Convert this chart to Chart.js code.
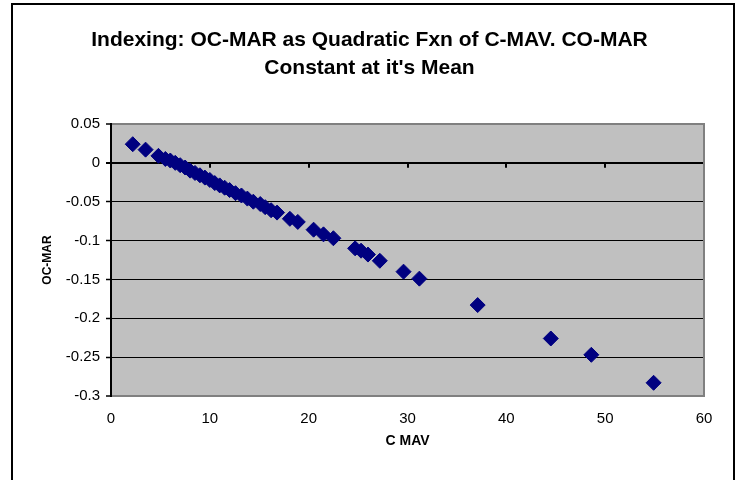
<!DOCTYPE html>
<html>
<head>
<meta charset="utf-8">
<script src="https://cdn.jsdelivr.net/npm/chart.js@4"></script>
<style>
  html, body { margin: 0; padding: 0; background: #fff; }
  #wrap { width: 739px; height: 480px; }
</style>
</head>
<body>
<div id="wrap"><canvas id="grafico" width="739" height="480"></canvas></div>
<script>
// valores
const cMav = [2.2, 3.5, 4.8, 5.5, 6.0, 6.5, 7.0, 7.5, 8.0, 8.5, 9.0, 9.5, 10.0, 10.5, 11.0, 11.5, 12.0, 12.6, 13.2, 13.8,
  14.4, 15.1, 15.6, 16.2, 16.8, 18.1, 18.9, 20.5, 21.5, 22.5, 24.7, 25.3, 26.0, 27.2, 29.6, 31.2, 37.1, 44.5, 48.6, 54.9];
const ocMar = [0.024, 0.017, 0.009, 0.005, 0.003, 0.000, -0.003, -0.006, -0.010, -0.013, -0.016, -0.019, -0.022, -0.026,
  -0.029, -0.032, -0.035, -0.039, -0.042, -0.046, -0.050, -0.053, -0.057, -0.061, -0.064, -0.072, -0.076, -0.086, -0.092,
  -0.097, -0.110, -0.113, -0.118, -0.126, -0.140, -0.149, -0.183, -0.226, -0.247, -0.283];
const xTicks = [0, 10, 20, 30, 40, 50, 60];
const yTicks = [0.05, 0, -0.05, -0.1, -0.15, -0.2, -0.25, -0.3];

const pontos = cMav.map((x, i) => ({x: x, y: ocMar[i]}));

const fundo = {
  id: 'fundo',
  beforeDraw(chart) {
    const ctx = chart.ctx;
    const a = chart.chartArea;
    ctx.save();
    ctx.fillStyle = '#fff';
    ctx.fillRect(0, 0, chart.width, chart.height);
    ctx.fillStyle = '#c0c0c0';
    ctx.fillRect(a.left, a.top, a.right - a.left, a.bottom - a.top);
    ctx.restore();
  },
  beforeDatasetsDraw(chart) {
    // marcas do eixo x sobre a linha do zero
    const ctx = chart.ctx;
    const x = chart.scales.x, y = chart.scales.y;
    const y0 = y.getPixelForValue(0);
    ctx.save();
    ctx.strokeStyle = '#000';
    ctx.lineWidth = 2;
    xTicks.forEach(v => {
      const px = Math.round(x.getPixelForValue(v));
      ctx.beginPath();
      ctx.moveTo(px, y0);
      ctx.lineTo(px, y0 + 5);
      ctx.stroke();
    });
    // borda direita cinza
    const a = chart.chartArea;
    ctx.strokeStyle = '#808080';
    ctx.beginPath();
    ctx.moveTo(a.right, a.top - 1);
    ctx.lineTo(a.right, a.bottom + 1);
    ctx.stroke();
    ctx.restore();
  },
  afterDraw(chart) {
    const ctx = chart.ctx;
    ctx.save();
    ctx.strokeStyle = '#000';
    ctx.lineWidth = 2;
    ctx.strokeRect(12, 4, 722, 480);
    ctx.restore();
  }
};

const fonte = "'Liberation Sans', Arial, sans-serif";

new Chart(document.getElementById('grafico'), {
  type: 'scatter',
  data: {
    datasets: [{
      label: 'OC-MAR',
      data: pontos,
      pointStyle: 'rectRot',
      pointRadius: 7.5,
      pointHoverRadius: 7.5,
      backgroundColor: '#000080',
      borderColor: '#000080',
      borderWidth: 1
    }]
  },
  options: {
    responsive: false,
    animation: false,
    events: [],
    layout: { padding: { top: 26, left: 35, right: 35, bottom: 0 } },
    plugins: {
      legend: { display: false },
      tooltip: { enabled: false },
      title: {
        display: true,
        text: ['Indexing: OC-MAR as Quadratic Fxn of C-MAV. CO-MAR', "Constant at it's Mean"],
        color: '#000',
        font: { family: fonte, size: 21, weight: 'bold', lineHeight: '28px' },
        padding: { top: 0, bottom: 42 }
      }
    },
    scales: {
      x: {
        type: 'linear',
        min: 0,
        max: 60,
        afterFit(s) { s.height = 84; },
        afterBuildTicks(s) { s.ticks = xTicks.map(v => ({value: v})); },
        ticks: { color: '#000', padding: 14, font: { family: fonte, size: 15 } },
        grid: { drawOnChartArea: false, drawTicks: false },
        border: { color: '#808080', width: 2 },
        title: {
          display: true,
          text: 'C MAV',
          color: '#000',
          font: { family: fonte, size: 14, weight: 'bold' },
          padding: { top: 0, bottom: 30 }
        }
      },
      y: {
        type: 'linear',
        min: -0.3,
        max: 0.05,
        afterFit(s) { s.width = 76; },
        afterBuildTicks(s) { s.ticks = yTicks.map(v => ({value: v})); },
        ticks: {
          color: '#000',
          padding: 6,
          font: { family: fonte, size: 15 },
          callback: v => String(Math.round(v * 100) / 100)
        },
        grid: {
          color: c => (c.tick && (c.tick.value === 0.05 || c.tick.value === -0.3)) ? '#808080' : '#000',
          lineWidth: c => (c.tick && (c.tick.value === 0 || c.tick.value === 0.05 || c.tick.value === -0.3)) ? 2 : 1,
          tickColor: '#000',
          tickWidth: c => (c.tick && c.tick.value === 0) ? 2 : 1.5,
          tickLength: 5
        },
        border: { color: '#000', width: 2 },
        title: {
          display: true,
          text: 'OC-MAR',
          color: '#000',
          font: { family: fonte, size: 12, weight: 'bold' },
          padding: { top: 5, bottom: 0 }
        }
      }
    }
  },
  plugins: [fundo]
});
</script>
</body>
</html>
